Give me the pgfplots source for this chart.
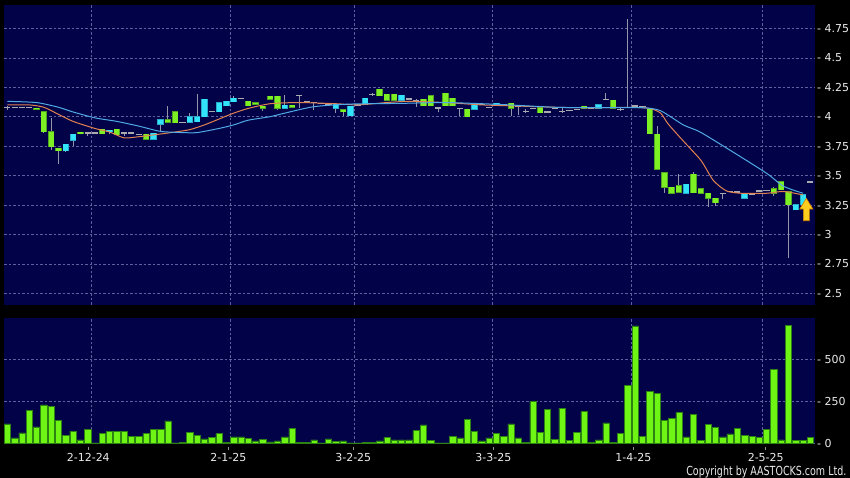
\documentclass[border=0pt]{standalone}
\usepackage{fontspec}
\setmainfont{DejaVu Sans}
\newfontfamily\copyfont[FakeStretch=0.76]{DejaVu Sans}
\usepackage{pgfplots}
\usepackage{pgfplotstable}
\pgfplotsset{compat=1.18}

\definecolor{panelbg}{RGB}{2,2,72}
\definecolor{gridc}{RGB}{95,95,160}
\definecolor{cg}{RGB}{125,240,35}
\definecolor{cgE}{RGB}{80,165,35}
\definecolor{cc}{RGB}{50,228,250}
\definecolor{ccE}{RGB}{40,170,200}
\definecolor{cdj}{RGB}{170,170,175}
\definecolor{wick}{RGB}{150,150,170}
\definecolor{vg}{RGB}{110,245,20}
\definecolor{vgE}{RGB}{45,130,20}
\definecolor{maO}{RGB}{225,130,80}
\definecolor{maB}{RGB}{80,170,230}
\definecolor{txtc}{RGB}{235,235,235}
\definecolor{tickc}{RGB}{150,150,150}
\definecolor{arrY}{RGB}{255,205,30}
\definecolor{arrO}{RGB}{210,130,0}

\newcommand\tk{{\color{tickc}\rule{0.6pt}{2.5pt}}}

\pgfdeclareplotmark{uparr}{%
  \pgfpathmoveto{\pgfqpoint{0pt}{11.2pt}}%
  \pgfpathlineto{\pgfqpoint{6.5pt}{0.5pt}}%
  \pgfpathlineto{\pgfqpoint{3pt}{0.5pt}}%
  \pgfpathlineto{\pgfqpoint{3pt}{-11.2pt}}%
  \pgfpathlineto{\pgfqpoint{-3pt}{-11.2pt}}%
  \pgfpathlineto{\pgfqpoint{-3pt}{0.5pt}}%
  \pgfpathlineto{\pgfqpoint{-6.5pt}{0.5pt}}%
  \pgfpathclose
  \pgfusepathqfillstroke}

\pgfplotsset{
  panel/.style={
    scale only axis, width=811pt,
    xmin=-0.456, xmax=110.64,
    axis background/.style={fill=panelbg},
    axis line style={draw=none},
    ymajorgrids=true,
    grid style={draw=gridc, line width=0.5pt, dash pattern=on 2.5pt off 2pt},
    tick style={draw=none}, major tick length=0pt,
    yticklabel pos=right,
    tick label style={font=\fontsize{11}{12}\selectfont, text=txtc},
    yticklabel style={anchor=west, inner sep=0pt, xshift=2pt},
    extra x ticks={11.53,30.57,47.49,66.46,85.50,103.48},
    extra x tick labels={},
    extra x tick style={xmajorgrids=true},
  },
  bodyplot/.style={draw=none, mark=none,
    error bars/.cd, y dir=plus, y explicit, error mark=none},
}

\pgfplotstableread{
i o h l c
0 4.08 4.09 4.06 4.08
1 4.08 4.08 4.08 4.08
2 4.076 4.08 4.07 4.076
3 4.076 4.08 4.07 4.076
4 4.073 4.075 4.06 4.062
5 4.04 4.04 3.86 3.873
6 3.873 3.99 3.72 3.746
7 3.73 3.73 3.60 3.71
8 3.71 3.765 3.70 3.765
9 3.80 3.85 3.75 3.85
10 3.867 3.87 3.85 3.853
11 3.86 3.87 3.84 3.86
12 3.86 3.86 3.86 3.86
13 3.895 3.895 3.85 3.853
14 3.873 3.887 3.85 3.887
15 3.895 3.895 3.845 3.845
16 3.86 3.87 3.84 3.86
17 3.86 3.86 3.86 3.86
18 3.85 3.855 3.845 3.85
19 3.85 3.85 3.81 3.81
20 3.81 3.86 3.81 3.86
21 3.935 3.975 3.87 3.975
22 3.975 4.09 3.95 3.952
23 4.04 4.04 3.95 3.95
24 3.95 3.95 3.95 3.95
25 3.952 4.03 3.952 4.0
26 3.958 4.19 3.958 4.0
27 4.0 4.15 4.0 4.15
28 4.042 4.05 4.04 4.042
29 4.04 4.12 4.04 4.12
30 4.093 4.133 4.093 4.133
31 4.127 4.175 4.127 4.155
32 4.155 4.155 4.155 4.155
33 4.13 4.13 4.093 4.093
34 4.12 4.12 4.105 4.105
35 4.09 4.09 4.05 4.07
36 4.175 4.175 4.147 4.147
37 4.172 4.172 4.055 4.07
38 4.07 4.18 4.07 4.096
39 4.096 4.096 4.08 4.08
40 4.18 4.18 4.07 4.18
41 4.127 4.127 4.127 4.127
42 4.12 4.12 4.06 4.12
43 4.11 4.11 4.11 4.11
44 4.105 4.105 4.105 4.105
45 4.07 4.107 4.035 4.107
46 4.06 4.06 4.008 4.04
47 4.008 4.09 4.008 4.09
48 4.10 4.10 4.10 4.10
49 4.10 4.155 4.10 4.155
50 4.19 4.198 4.178 4.19
51 4.234 4.234 4.178 4.178
52 4.19 4.19 4.14 4.14
53 4.19 4.19 4.14 4.14
54 4.14 4.18 4.14 4.18
55 4.15 4.15 4.15 4.15
56 4.133 4.147 4.085 4.133
57 4.15 4.15 4.093 4.093
58 4.178 4.178 4.093 4.093
59 4.075 4.075 4.037 4.075
60 4.198 4.198 4.093 4.093
61 4.155 4.155 4.093 4.093
62 4.07 4.07 4.008 4.07
63 4.062 4.062 4.0 4.0
64 4.062 4.096 4.062 4.096
65 4.105 4.105 4.105 4.105
66 4.08 4.08 4.08 4.08
67 4.093 4.116 4.093 4.116
68 4.105 4.105 4.105 4.105
69 4.116 4.116 4.008 4.07
70 4.085 4.085 4.014 4.085
71 4.045 4.068 4.03 4.045
72 4.07 4.07 4.07 4.07
73 4.076 4.076 4.034 4.034
74 4.04 4.04 4.04 4.04
75 4.07 4.07 4.07 4.07
76 4.045 4.085 4.034 4.045
77 4.05 4.05 4.05 4.05
78 4.06 4.06 4.06 4.06
79 4.087 4.087 4.07 4.07
80 4.075 4.075 4.075 4.075
81 4.07 4.1 4.07 4.1
82 4.147 4.198 4.147 4.147
83 4.141 4.141 4.071 4.071
84 4.06 4.075 4.045 4.06
85 4.08 4.833 4.075 4.08
86 4.09 4.09 4.09 4.09
87 4.085 4.085 4.085 4.085
88 4.065 4.065 3.853 3.853
89 3.853 3.92 3.554 3.554
90 3.525 3.525 3.355 3.40
91 3.40 3.40 3.35 3.35
92 3.415 3.51 3.36 3.36
93 3.35 3.427 3.35 3.427
94 3.51 3.53 3.356 3.356
95 3.39 3.39 3.35 3.35
96 3.35 3.35 3.237 3.308
97 3.308 3.308 3.245 3.271
98 3.35 3.35 3.30 3.35
99 3.365 3.365 3.365 3.365
100 3.36 3.36 3.36 3.36
101 3.308 3.345 3.308 3.345
102 3.34 3.34 3.34 3.34
103 3.37 3.37 3.37 3.37
104 3.375 3.375 3.375 3.375
105 3.39 3.40 3.33 3.35
106 3.449 3.449 3.38 3.38
107 3.364 3.364 2.80 3.251
108 3.209 3.251 3.209 3.251
109 3.251 3.336 3.251 3.336
110 3.446 3.446 3.446 3.446
}\candles

\pgfplotstableread{
i v
0 115
1 32
2 62
3 194
4 97
5 228
6 218
7 137
8 48
9 73
10 20
11 85
12 2
13 60
14 73
15 71
16 71
17 42
18 42
19 58
20 85
21 83
22 133
23 2
24 4
25 67
26 46
27 26
28 36
29 58
30 6
31 38
32 38
33 30
34 14
35 24
36 8
37 14
38 38
39 89
40 6
41 6
42 20
43 2
44 26
45 12
46 14
47 2
48 2
49 6
50 6
51 14
52 34
53 20
54 20
55 20
56 75
57 109
58 16
59 3
60 3
61 40
62 32
63 143
64 69
65 14
66 32
67 60
68 42
69 115
70 32
71 6
72 248
73 67
74 200
75 24
76 208
77 18
78 65
79 188
80 4
81 20
82 121
83 4
84 58
85 345
86 698
87 42
88 310
89 296
90 137
91 149
92 183
93 38
94 173
95 18
96 113
97 93
98 38
99 56
100 87
101 46
102 40
103 36
104 85
105 438
106 20
107 702
108 18
109 18
110 36
}\vol

\begin{document}
\begin{tikzpicture}[x=1pt,y=1pt]
\useasboundingbox (0,0) rectangle (850,478);
\fill[black] (0,0) rectangle (850,478);

% ---------- price panel ----------
\begin{axis}[panel,
  at={(4pt,173pt)}, anchor=south west, height=300pt,
  ymin=2.4015, ymax=4.948,
  xtick=\empty,
  ytick={2.5,2.75,3,3.25,3.5,3.75,4,4.25,4.5,4.75},
  yticklabels={- 2.5,- 2.75,- 3,- 3.25,- 3.5,- 3.75,- 4,- 4.25,- 4.5,- 4.75},
]
% wicks
\addplot[bodyplot, error bar style={draw=wick, line width=0.9pt}]
  table[x=i, y=l, y error expr={\thisrow{h}-\thisrow{l}}] {\candles};
% doji (grey bars)
\addplot[draw=none, mark=none,
  error bars/.cd, x dir=both, x fixed=0.42, error mark=none,
  error bar style={draw=cdj, line width=1.4pt}]
  table[x=i, y expr={(abs(\thisrow{c}-\thisrow{o})<0.0005) ? \thisrow{c} : nan}] {\candles};
% down candles (green): outline then fill
\addplot[bodyplot, error bar style={draw=cgE, line width=6.4pt}]
  table[x=i, y expr={(\thisrow{c}<\thisrow{o}) ? \thisrow{c}-0.004 : nan},
        y error expr={\thisrow{o}-\thisrow{c}+0.008}] {\candles};
\addplot[bodyplot, error bar style={draw=cg, line width=5pt}]
  table[x=i, y expr={(\thisrow{c}<\thisrow{o}) ? \thisrow{c} : nan},
        y error expr={\thisrow{o}-\thisrow{c}}] {\candles};
% up candles (cyan)
\addplot[bodyplot, error bar style={draw=ccE, line width=6.4pt}]
  table[x=i, y expr={(\thisrow{c}>\thisrow{o}) ? \thisrow{o}-0.004 : nan},
        y error expr={\thisrow{c}-\thisrow{o}+0.008}] {\candles};
\addplot[bodyplot, error bar style={draw=cc, line width=5pt}]
  table[x=i, y expr={(\thisrow{c}>\thisrow{o}) ? \thisrow{o} : nan},
        y error expr={\thisrow{c}-\thisrow{o}}] {\candles};
% 10-day average (orange)
\addplot[maO, line width=1pt, smooth, tension=0.4] coordinates {
(0,4.10) (3,4.10) (5,4.08) (7,4.02) (9,3.96) (12,3.90) (14,3.87) (16,3.82)
(18,3.83) (20,3.845) (23,3.87) (25,3.89) (27,3.93) (29,3.98) (31,4.03)
(33,4.07) (36,4.11) (40,4.12) (45,4.11) (48,4.10) (52,4.12) (55,4.13)
(60,4.12) (65,4.10) (70,4.09) (75,4.08) (80,4.075) (85,4.08) (88,4.07)
(89.5,4.03) (90.5,3.94) (92.5,3.80) (95,3.63) (96.7,3.46) (98.5,3.37)
(100.5,3.35) (104,3.35) (106,3.365) (107,3.36) (109,3.336)};
% 20-day average (blue)
\addplot[maB, line width=1pt, smooth, tension=0.4] coordinates {
(0,4.13) (4,4.12) (7,4.08) (9,4.04) (12,3.99) (15,3.96) (18,3.92) (21,3.875)
(24,3.865) (26,3.865) (29,3.90) (31,3.93) (33,3.97) (36,4.00) (38,4.03)
(42,4.085) (47,4.107) (54,4.113) (60,4.12) (67,4.105) (75,4.08) (80,4.076)
(87,4.076) (89.5,4.05) (92.6,3.93) (94.9,3.87) (99.4,3.70) (104,3.52)
(106.3,3.41) (109,3.35)};
\addplot[only marks, mark=uparr, mark options={fill=arrY, draw=arrO, line width=0.6pt}]
  coordinates {(109.45,3.212)};
\end{axis}

% ---------- volume panel ----------
\begin{axis}[panel,
  at={(4pt,34.7pt)}, anchor=south west, height=125.3pt,
  ymin=0, ymax=745,
  xtick={11.09,30.27,47.39,66.57,85.75,103.89},
  xticklabels={{\tk\\2-12-24},{\tk\\2-1-25},{\tk\\3-2-25},{\tk\\3-3-25},{\tk\\1-4-25},{\tk\\2-5-25}},
  xticklabel style={anchor=north, inner sep=0pt, yshift=-3.7pt, align=center},
  ytick={0,250,500},
  yticklabels={- 0,- 250,- 500},
]
\addplot[ybar, bar width=0.86, fill=vg, draw=vgE, line width=0.5pt]
  table[x=i, y=v] {\vol};
\end{axis}

\node[anchor=base east, inner sep=0pt, text=txtc,
  font=\copyfont\fontsize{12.5}{13}\selectfont] at (846.5,2.5)
  {Copyright by AASTOCKS.com Ltd.};
\end{tikzpicture}
\end{document}
